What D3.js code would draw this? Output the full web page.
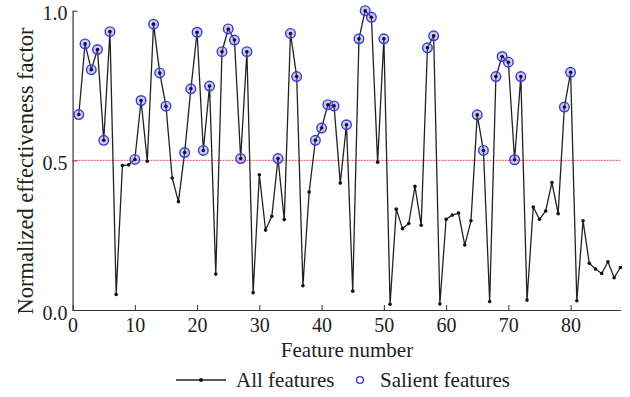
<!DOCTYPE html>
<html>
<head>
<meta charset="utf-8">
<script src="https://cdn.jsdelivr.net/npm/d3@7"></script>
</head>
<body style="margin:0;background:#fff">
<div id="chart"></div>
<script>
// effectiveness factor of each feature (feature number = index + 1)
const values = [
  0.653, 0.889, 0.803, 0.870, 0.567, 0.930, 0.052, 0.483, 0.485, 0.503,
  0.700, 0.497, 0.955, 0.792, 0.681, 0.441, 0.362, 0.526, 0.739, 0.928,
  0.533, 0.748, 0.120, 0.863, 0.939, 0.902, 0.506, 0.863, 0.058, 0.452,
  0.267, 0.313, 0.506, 0.302, 0.924, 0.780, 0.081, 0.394, 0.567, 0.608,
  0.686, 0.682, 0.424, 0.619, 0.063, 0.906, 1.000, 0.978, 0.494, 0.906,
  0.019, 0.337, 0.272, 0.289, 0.413, 0.283, 0.876, 0.916, 0.020, 0.303,
  0.317, 0.324, 0.217, 0.298, 0.652, 0.533, 0.028, 0.780, 0.847, 0.828,
  0.502, 0.780, 0.033, 0.344, 0.303, 0.331, 0.426, 0.322, 0.678, 0.794,
  0.031, 0.298, 0.156, 0.137, 0.122, 0.161, 0.108, 0.142
];
const salient = [1, 2, 3, 4, 5, 6, 10, 11, 13, 14, 15, 18, 19, 20, 21, 22, 24, 25, 26, 27, 28,
  33, 35, 36, 39, 40, 41, 42, 44, 46, 47, 48, 50, 57, 58, 65, 66, 68, 69, 70, 71, 72, 79, 80];
const xTicks = [0, 10, 20, 30, 40, 50, 60, 70, 80];
const yTicks = [0, 0.5, 1.0];
const threshold = 0.5;

const data = values.map((v, i) => ({ n: i + 1, v: v }));
const salientData = data.filter(d => salient.includes(d.n));

const width = 630, height = 397;
const margin = {top: 10.7, right: 9.6, bottom: 87, left: 72.6};
const w = width - margin.left - margin.right;
const h = height - margin.top - margin.bottom;
const FONT = '"Liberation Serif"';
const INK = '#222';

const svg = d3.select('#chart').append('svg')
    .attr('width', width)
    .attr('height', height);
const g = svg.append('g')
    .attr('transform', 'translate(' + margin.left + ',' + margin.top + ')');

const x = d3.scaleLinear().domain([0, 88]).range([0, w]);
const y = d3.scaleLinear().domain([0, 1]).range([h, 0]);

// Axes (ticks point inward)
const xAxis = g.append('g')
    .attr('transform', 'translate(0,' + h + ')')
    .call(d3.axisBottom(x).tickValues(xTicks).tickSize(-5).tickSizeOuter(0).tickPadding(6).tickFormat(d3.format('d')));
const yAxis = g.append('g')
    .call(d3.axisLeft(y).tickValues(yTicks).tickSize(-5).tickSizeOuter(0).tickPadding(5).tickFormat(d3.format('.1f')));
[xAxis, yAxis].forEach(a => {
  a.attr('font-family', null).attr('font-size', null);
  a.select('.domain').attr('stroke', '#333').attr('stroke-width', 1.2);
  a.selectAll('.tick line').attr('stroke', '#333');
  a.selectAll('.tick text')
    .style('font-family', FONT)
    .style('font-size', '20px')
    .attr('fill', INK);
});
xAxis.selectAll('.tick text').attr('dy', '0.78em');
yAxis.selectAll('.tick text').attr('dy', '0.45em');

// threshold line
g.append('line')
    .attr('x1', x(0)).attr('x2', x(88))
    .attr('y1', y(threshold)).attr('y2', y(threshold))
    .attr('stroke', '#e05050')
    .attr('stroke-width', 1)
    .attr('stroke-dasharray', '2,1');

// all features
const line = d3.line()
    .x(d => x(d.n))
    .y(d => y(d.v));
g.append('path')
    .datum(data)
    .attr('fill', 'none')
    .attr('stroke', INK)
    .attr('stroke-width', 1.3)
    .attr('stroke-linejoin', 'round')
    .attr('d', line);

// salient circles
g.selectAll('.salient')
    .data(salientData)
  .enter().append('circle')
    .attr('class', 'salient')
    .attr('cx', d => x(d.n))
    .attr('cy', d => y(d.v))
    .attr('r', 4.8)
    .attr('fill', 'rgba(120,120,240,0.4)')
    .attr('stroke', '#3a3ad6')
    .attr('stroke-width', 1.4);

g.selectAll('.dot')
    .data(data)
  .enter().append('circle')
    .attr('class', 'dot')
    .attr('cx', d => x(d.n))
    .attr('cy', d => y(d.v))
    .attr('r', 1.8)
    .attr('fill', '#111');

// axis labels
svg.append('text')
    .attr('x', 347)
    .attr('y', 357)
    .attr('text-anchor', 'middle')
    .attr('fill', INK)
    .style('font-family', FONT)
    .style('font-size', '21px')
    .text('Feature number');
svg.append('text')
    .attr('transform', 'translate(33,171) rotate(-90)')
    .attr('text-anchor', 'middle')
    .attr('fill', INK)
    .style('font-family', FONT)
    .style('font-size', '22.5px')
    .text('Normalized effectiveness factor');

// legend
const lg = svg.append('g').attr('transform', 'translate(0,380)');
lg.append('line')
    .attr('x1', 176).attr('x2', 226)
    .attr('stroke', INK).attr('stroke-width', 1.3);
lg.append('circle').attr('cx', 201).attr('r', 2).attr('fill', '#111');
lg.append('text').attr('x', 236).attr('dy', '0.33em')
    .attr('fill', INK)
    .style('font-family', FONT)
    .style('font-size', '21px').text('All features');
lg.append('circle').attr('cx', 360).attr('r', 3.4)
    .attr('fill', 'none').attr('stroke', '#3a3ad6').attr('stroke-width', 1.4);
lg.append('text').attr('x', 380).attr('dy', '0.33em')
    .attr('fill', INK)
    .style('font-family', FONT)
    .style('font-size', '21px').text('Salient features');
</script>
</body>
</html>
